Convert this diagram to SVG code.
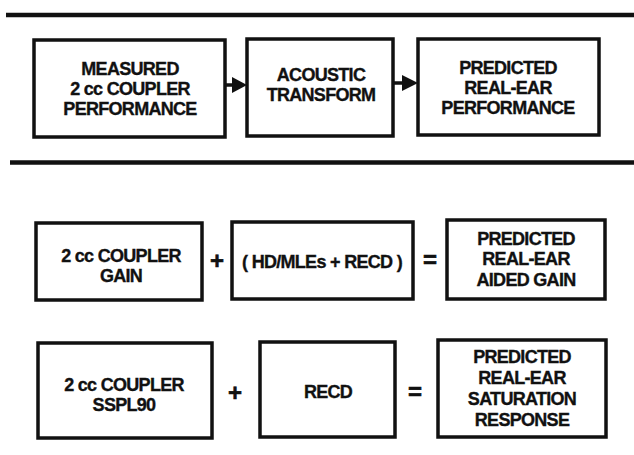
<svg xmlns="http://www.w3.org/2000/svg" width="634" height="455" viewBox="0 0 634 455">
  <style>
    .box { fill: #fff; stroke: #111; stroke-width: 3.5; }
    .rule { stroke: #111; stroke-width: 4.5; }
    .lbl { font-family: "Liberation Sans", Arial, Helvetica, sans-serif; font-weight: bold; font-size: 18px; letter-spacing: -0.7px; fill: #111; stroke: #111; stroke-width: 0.35px; text-anchor: middle; }
    .op { font-family: "Liberation Sans", Arial, Helvetica, sans-serif; font-weight: bold; font-size: 24px; fill: #111; stroke: #111; stroke-width: 0.6px; text-anchor: middle; }
    .link { stroke: #111; stroke-width: 3.5; fill: none; }
    .head { fill: #111; }
  </style>
  <rect width="634" height="455" fill="#fff"/>

  <!-- horizontal rules -->
  <g id="rules">
    <line class="rule" x1="6" y1="15" x2="634" y2="15"/>
    <line class="rule" x1="10" y1="162.5" x2="634" y2="162.5"/>
  </g>

  <!-- top row: measurement chain -->
  <g id="measured">
    <rect class="box" x="34" y="40" width="191" height="97"/>
    <text class="lbl" x="130" y="75">MEASURED</text>
    <text class="lbl" x="130" y="95">2 cc COUPLER</text>
    <text class="lbl" x="130" y="115">PERFORMANCE</text>
  </g>
  <g id="transform">
    <rect class="box" x="247" y="39" width="146" height="97"/>
    <text class="lbl" x="321" y="81">ACOUSTIC</text>
    <text class="lbl" x="321" y="101">TRANSFORM</text>
  </g>
  <g id="predicted-performance">
    <rect class="box" x="418" y="39" width="181" height="96"/>
    <text class="lbl" x="508" y="74">PREDICTED</text>
    <text class="lbl" x="508" y="94">REAL-EAR</text>
    <text class="lbl" x="508" y="114">PERFORMANCE</text>
  </g>

  <g id="connectors">
    <line class="link" x1="225" y1="85" x2="234" y2="85"/>
    <polygon class="head" points="232,77 247,85 232,93"/>
    <line class="link" x1="393" y1="83" x2="404" y2="83"/>
    <polygon class="head" points="402,75 418,83 402,91"/>
  </g>

  <!-- middle row: gain equation -->
  <g id="coupler-gain">
    <rect class="box" x="36" y="223" width="166" height="77"/>
    <text class="lbl" x="121" y="262">2 cc COUPLER</text>
    <text class="lbl" x="121" y="282">GAIN</text>
  </g>
  <g id="hd-mle-recd">
    <rect class="box" x="232" y="222" width="181" height="77"/>
    <text class="lbl" x="322" y="268">( HD/MLEs + RECD )</text>
  </g>
  <g id="aided-gain">
    <rect class="box" x="447" y="220" width="158" height="79"/>
    <text class="lbl" x="526" y="245">PREDICTED</text>
    <text class="lbl" x="526" y="265">REAL-EAR</text>
    <text class="lbl" x="526" y="286">AIDED GAIN</text>
  </g>

  <!-- bottom row: saturation equation -->
  <g id="coupler-sspl90">
    <rect class="box" x="38" y="343" width="174" height="95"/>
    <text class="lbl" x="124" y="391">2 cc COUPLER</text>
    <text class="lbl" x="124" y="411">SSPL90</text>
  </g>
  <g id="recd">
    <rect class="box" x="260" y="342" width="135" height="95"/>
    <text class="lbl" x="328" y="398">RECD</text>
  </g>
  <g id="saturation-response">
    <rect class="box" x="438" y="340" width="168" height="97"/>
    <text class="lbl" x="522" y="363">PREDICTED</text>
    <text class="lbl" x="522" y="384">REAL-EAR</text>
    <text class="lbl" x="522" y="405">SATURATION</text>
    <text class="lbl" x="522" y="426">RESPONSE</text>
  </g>

  <g id="operators">
    <text class="op" x="217" y="269">+</text>
    <text class="op" x="430" y="268">=</text>
    <text class="op" x="235" y="401">+</text>
    <text class="op" x="415" y="400">=</text>
  </g>
</svg>
